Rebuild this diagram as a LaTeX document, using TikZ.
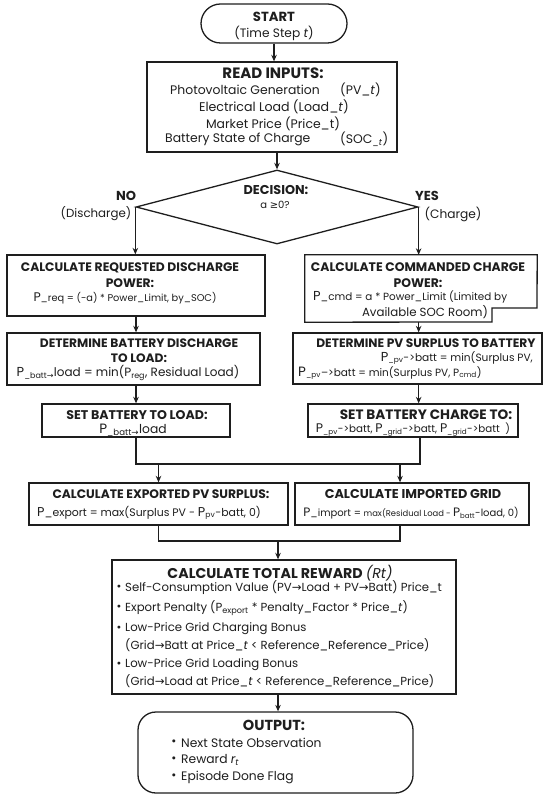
\documentclass[tikz,border=0pt]{standalone}
\usepackage{fontspec}
\setmainfont{Poppins}
\newfontfamily\dvfont{DejaVu Sans}
\usetikzlibrary{shapes.geometric,arrows.meta}
\definecolor{ink}{HTML}{1E1E1E}
\newcommand{\myarr}{{\dvfont →}}
\newcommand{\fs}[1]{\fontsize{#1}{15.5}\selectfont}
\begin{document}
\begin{tikzpicture}[x=1pt,y=-1pt,
  box/.style={draw=ink,line width=1.3pt,fill=white,inner sep=0pt},
  arr/.style={draw=ink,line width=1.2pt,-{Stealth[length=6.5pt,width=5.5pt]}},
  ln/.style={draw=ink,line width=1.2pt},
  ttl/.style={inner sep=0pt,text=ink,font=\bfseries\fs{12.5}},
  txt/.style={inner sep=0pt,text=ink,font=\fs{12}},
]
\useasboundingbox[fill=white] (0,0) rectangle (550,799);

% START
\node[box,rounded corners=19.5pt,minimum width=146pt,minimum height=39pt] (start) at (274,23.5) {};
\node[ttl,font=\bfseries\fs{13.2}] (startA) at (274,17) {START};
\node[txt,font=\fs{12.2}] (startB) at (274,33) {(Time Step \textit{t})};

% READ INPUTS
\node[box,minimum width=250pt,minimum height=90pt] (inputs) at (272,107) {};
\node[ttl,font=\bfseries\fs{15}] (inA) at (273,73) {READ INPUTS:};
\node[txt,anchor=west,font=\fs{12.4}] (inB) at (170,90) {Photovoltaic Generation};
\node[txt,anchor=west,font=\fs{12.4}] (inC) at (340,90) {(PV\_\textit{t})};
\node[txt,font=\fs{12.6}] (inD) at (274,107) {Electrical Load (Load\_\textit{t})};
\node[txt,font=\fs{12.4}] (inE) at (273,124) {Market Price (Price\_t)};
\node[txt,anchor=west,font=\fs{12.4}] (inF) at (165,139) {Battery State of Charge};
\node[txt,anchor=west,font=\fs{12.4}] (inG) at (340,139) {(SOC\textsubscript{\_\textit{t}})};

% DECISION
\node[box,diamond,minimum width=282pt,minimum height=74pt] (dec) at (277,207) {};
\node[ttl,font=\bfseries\fs{12.8}] (decT) at (276,190) {DECISION:};
\node[txt,font=\fs{10}] (decS) at (275,205) {a {\dvfont≥}0?};
\node[ttl,font=\bfseries\fs{13}] (no) at (126,196) {NO};
\node[txt,font=\fs{11.8}] (noS) at (96,214) {(Discharge)};
\node[ttl,font=\bfseries\fs{13}] (yes) at (427,196) {YES};
\node[txt,font=\fs{12.2}] (yesS) at (453,214) {(Charge)};

% LEFT column
\node[box,minimum width=258pt,minimum height=61pt] (req) at (136,285.5) {};
\node[ttl,align=center,font=\bfseries\fs{12.3}] (reqT) at (130,275) {CALCULATE REQUESTED DISCHARGE\\POWER:};
\node[txt,font=\fs{9.8}] (reqL) at (125,298) {{\fs{12.5}P}\_req = (-a) * Power\_Limit, by\_SOC)};

\node[box,minimum width=253pt,minimum height=52pt] (batt) at (133.5,359) {};
\node[ttl,align=center,font=\bfseries\fs{12.2}] (battT) at (139,350.5) {DETERMINE BATTERY DISCHARGE\\TO LOAD:};
\node[txt,font=\fs{12}] (battL) at (128,373) {{\fs{13}P}\textsubscript{\_batt\myarr}load = min(P\textsubscript{reg}, Residual Load)};

\node[box,minimum width=188pt,minimum height=33pt] (setload) at (136,420.5) {};
\node[ttl,font=\bfseries\fs{12.6}] (slT) at (137,415) {SET BATTERY TO LOAD:};
\node[txt,font=\fs{12.3}] (slL) at (133,430) {{\fs{13.5}P}\textsubscript{\_batt\myarr}load};

% RIGHT column
\node[inner sep=0pt,minimum width=232pt,minimum height=67pt] (cmd) at (421,288.5) {};
\draw[draw=ink,line width=1.3pt,fill=white] (cmd.north west) -- (cmd.north east) -- (537,308) -- (492,308) -- (492,322) -- (cmd.south west) -- cycle;
\node[ttl,align=center,font=\bfseries\fs{12.4}] (cmdT) at (418,275) {CALCULATE COMMANDED CHARGE\\POWER:};
\node[txt,anchor=west,font=\fs{10.4}] (cmdL1) at (313,297) {{\fs{13}P}\_cmd = a * Power\_Limit (Limited by};
\node[txt,font=\fs{11.8}] (cmdL2) at (425,312) {Available SOC Room)};

\node[box,minimum width=249pt,minimum height=51pt] (pvs) at (417.5,358.5) {};
\node[ttl,font=\bfseries\fs{12.2}] (pvsT) at (426,343) {DETERMINE PV SURPLUS TO BATTERY};
\node[txt,anchor=east,font=\fs{10.6}] (pvsL1) at (533,358) {{\fs{13}P}\textsubscript{\_pv}->batt = min(Surplus PV,};
\node[txt,anchor=west,font=\fs{10.5}] (pvsL2) at (298,373) {{\fs{13.5}P}\textsubscript{\_pv}–>batt = min(Surplus PV, P\textsubscript{cmd})};

\node[box,minimum width=210pt,minimum height=33pt] (setchg) at (413,420.5) {};
\node[ttl,font=\bfseries\fs{13.6}] (scT) at (426,415) {SET BATTERY CHARGE TO:};
\node[txt,font=\fs{10.3}] (scL) at (413,430) {{\fs{12.5}P}\textsubscript{\_pv}->batt, {\fs{12.5}P}\textsubscript{\_grid}->batt, {\fs{12.5}P}\textsubscript{\_grid}->batt~~)};

% EXPORT / IMPORT
\node[box,minimum width=259pt,minimum height=42pt] (export) at (158.5,504) {};
\node[ttl,font=\bfseries\fs{12.3}] (exT) at (161,494) {CALCULATE EXPORTED PV SURPLUS:};
\node[txt,font=\fs{10.9}] (exL) at (149,513) {{\fs{12.8}P}\_export = max(Surplus PV - {\fs{12.8}P}\textsubscript{pv}-batt, 0)};

\node[box,minimum width=234pt,minimum height=42pt] (import) at (412,504) {};
\node[ttl,font=\bfseries\fs{12.8}] (imT) at (413,494) {CALCULATE IMPORTED GRID};
\node[txt,font=\fs{10}] (imL) at (411,513) {{\fs{12.2}P}\_import = {\fs{8.4}max(Residual Load - }{\fs{12.2}P}\textsubscript{batt}-load, 0)};

% REWARD
\node[box,minimum width=344pt,minimum height=134pt] (reward) at (284,627) {};
\node[ttl,font=\bfseries\fs{14.2}] (rwT) at (280,573) {CALCULATE TOTAL REWARD {\mdseries\itshape (Rt)}};
\node[txt,font=\fs{11.7}] (rb1) at (119,588) {•};
\node[txt,anchor=west,font=\fs{11.7}] (r1) at (125,588) {Self-Consumption Value (PV\myarr Load + PV\myarr Batt) Price\_t};
\node[txt,font=\fs{11.7}] (rb2) at (119,608) {•};
\node[txt,anchor=west,font=\fs{11.7}] (r2) at (125,608) {Export Penalty (P\textsubscript{export} * Penalty\_Factor * Price\_\textit{t})};
\node[txt,font=\fs{11.7}] (rb3) at (119,629) {•};
\node[txt,anchor=west,font=\fs{11.7}] (r3) at (125,629) {Low-Price Grid Charging Bonus};
\node[txt,anchor=west,font=\fs{11.7}] (r3b) at (125,645) {(Grid\myarr Batt at Price\_\textit{t} < Reference\_Reference\_Price)};
\node[txt,font=\fs{11.7}] (rb4) at (119,665) {•};
\node[txt,anchor=west,font=\fs{11.7}] (r4) at (125,665) {Low-Price Grid Loading Bonus};
\node[txt,anchor=west,font=\fs{11.7}] (r4b) at (125,681) {(Grid\myarr Load at Price\_\textit{t} < Reference\_Reference\_Price)};

% OUTPUT
\node[box,rounded corners=18pt,minimum width=275pt,minimum height=81pt] (output) at (275.5,752.5) {};
\node[ttl,font=\bfseries\fs{14.5}] (outT) at (274,725) {OUTPUT:};
\node[txt,font=\fs{12.3}] (ob1) at (174,743) {•};
\node[txt,anchor=west,font=\fs{12.3}] (o1) at (181,743) {Next State Observation};
\node[txt,font=\fs{12.3}] (ob2) at (174,760) {•};
\node[txt,anchor=west,font=\fs{12.3}] (o2) at (181,760) {Reward \textit{r\textsubscript{t}}};
\node[txt,font=\fs{12.3}] (ob3) at (174,777) {•};
\node[txt,anchor=west,font=\fs{12.3}] (o3) at (181,777) {Episode Done Flag};

% CONNECTORS
\draw[arr] (start.south) -- (start.south |- inputs.north);
\draw[arr] (dec.north |- inputs.south) -- (dec.north);
\draw[arr] (dec.west) -- (dec.west |- req.north);
\draw[arr] (dec.east) -- (dec.east |- cmd.north);
\draw[arr] (setload.north |- req.south) -- (setload.north |- batt.north);
\draw[arr] (setload.north |- batt.south) -- (setload.north);
\draw[arr] (dec.east |- cmd.south) -- (dec.east |- pvs.north);
\draw[arr] (dec.east |- pvs.south) -- (dec.east |- setchg.north);
\coordinate (j1) at (136,464);
\coordinate (j2) at (420,464);
\coordinate (j3) at (400,464);
\draw[ln] (setload.south) -- (j1) -- (j2) -- (j2 |- setchg.south);
\draw[arr] (export.north |- j1) -- (export.north);
\draw[arr] (j3) -- (j3 |- import.north);
\coordinate (k1) at (158.5,541);
\coordinate (k2) at (400,541);
\coordinate (k3) at (278,541);
\draw[ln] (export.south) -- (k1) -- (k2) -- (k2 |- import.south);
\draw[arr] (k3) -- (k3 |- reward.north);
\draw[arr] (k3 |- reward.south) -- (k3 |- output.north);
\end{tikzpicture}
\end{document}
